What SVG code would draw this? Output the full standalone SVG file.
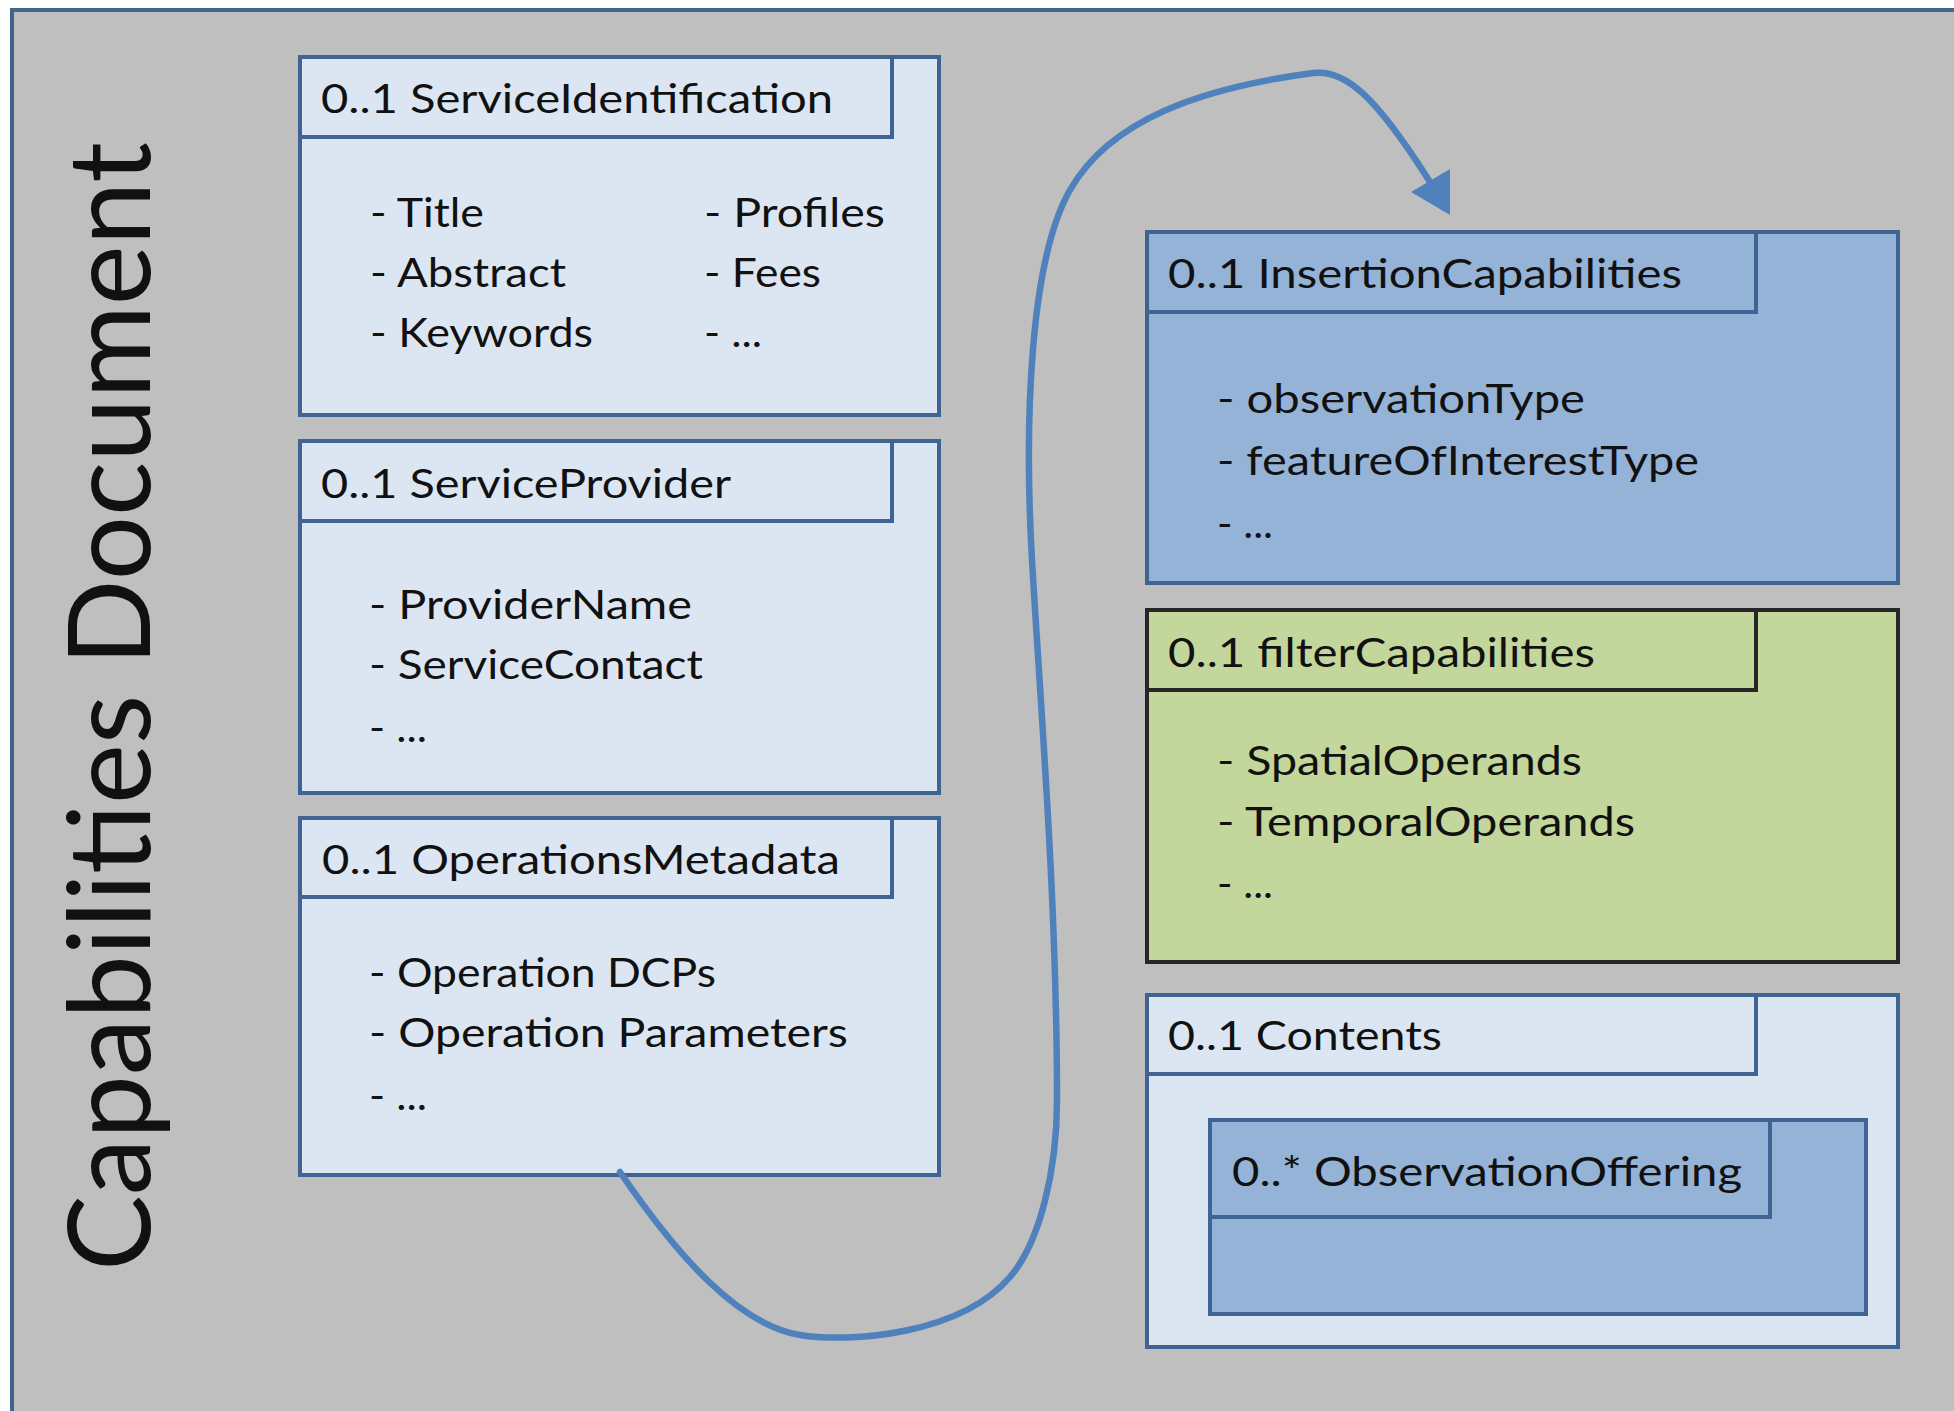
<svg xmlns="http://www.w3.org/2000/svg" width="1954" height="1411" viewBox="0 0 1954 1411">
  <style>
    .frame { fill: #bfbfbf; stroke: #41648f; stroke-width: 4; }
    .light { fill: #dce6f2; stroke: #3f6392; stroke-width: 4; }
    .mid { fill: #95b3d7; stroke: #3f6392; stroke-width: 4; }
    .green { fill: #c3d69b; stroke: #262626; stroke-width: 4; }
    text { font-family: Lato, "Open Sans", "Liberation Sans", sans-serif; font-size: 41px; fill: #111111; }
    .vtitle { font-size: 114px; }
    .link { fill: none; stroke: #4f81bd; stroke-width: 6.5; stroke-linecap: round; }
    .head { fill: #4f81bd; }
  </style>

  <rect x="0" y="0" width="1954" height="1411" fill="#ffffff"/>

  <!-- document frame -->
  <g id="document">
    <rect class="frame" x="12" y="10" width="2000" height="1450"/>
    <text class="vtitle" transform="translate(150,1271) rotate(-90)" textLength="1129" lengthAdjust="spacingAndGlyphs">Capabilities Document</text>
  </g>

  <!-- left column -->
  <g id="service-identification">
    <rect class="light" x="300" y="57" width="639" height="358"/>
    <rect class="light" x="300" y="57" width="592" height="80"/>
    <text x="321" y="113" textLength="512" lengthAdjust="spacingAndGlyphs">0..1 ServiceIdentification</text>
    <text x="370" y="227" textLength="114" lengthAdjust="spacingAndGlyphs">- Title</text>
    <text x="370" y="287" textLength="196" lengthAdjust="spacingAndGlyphs">- Abstract</text>
    <text x="370" y="347" textLength="223" lengthAdjust="spacingAndGlyphs">- Keywords</text>
    <text x="704" y="227" textLength="181" lengthAdjust="spacingAndGlyphs">- Profiles</text>
    <text x="704" y="287" textLength="117" lengthAdjust="spacingAndGlyphs">- Fees</text>
    <text x="704" y="347" textLength="58" lengthAdjust="spacingAndGlyphs">- ...</text>
  </g>

  <g id="service-provider">
    <rect class="light" x="300" y="441" width="639" height="352"/>
    <rect class="light" x="300" y="441" width="592" height="80"/>
    <text x="321" y="498" textLength="410" lengthAdjust="spacingAndGlyphs">0..1 ServiceProvider</text>
    <text x="369" y="619" textLength="323" lengthAdjust="spacingAndGlyphs">- ProviderName</text>
    <text x="369" y="679" textLength="334" lengthAdjust="spacingAndGlyphs">- ServiceContact</text>
    <text x="369" y="742" textLength="58" lengthAdjust="spacingAndGlyphs">- ...</text>
  </g>

  <g id="operations-metadata">
    <rect class="light" x="300" y="818" width="639" height="357"/>
    <rect class="light" x="300" y="818" width="592" height="79"/>
    <text x="322" y="874" textLength="518" lengthAdjust="spacingAndGlyphs">0..1 OperationsMetadata</text>
    <text x="369" y="987" textLength="347" lengthAdjust="spacingAndGlyphs">- Operation DCPs</text>
    <text x="369" y="1047" textLength="479" lengthAdjust="spacingAndGlyphs">- Operation Parameters</text>
    <text x="369" y="1110" textLength="58" lengthAdjust="spacingAndGlyphs">- ...</text>
  </g>

  <!-- right column -->
  <g id="insertion-capabilities">
    <rect class="mid" x="1147" y="232" width="751" height="351"/>
    <rect class="mid" x="1147" y="232" width="609" height="80"/>
    <text x="1168" y="288" textLength="514" lengthAdjust="spacingAndGlyphs">0..1 InsertionCapabilities</text>
    <text x="1217" y="413" textLength="368" lengthAdjust="spacingAndGlyphs">- observationType</text>
    <text x="1217" y="475" textLength="482" lengthAdjust="spacingAndGlyphs">- featureOfInterestType</text>
    <text x="1217" y="538" textLength="56" lengthAdjust="spacingAndGlyphs">- ...</text>
  </g>

  <g id="filter-capabilities">
    <rect class="green" x="1147" y="610" width="751" height="352"/>
    <rect class="green" x="1147" y="610" width="609" height="80"/>
    <text x="1168" y="667" textLength="427" lengthAdjust="spacingAndGlyphs">0..1 filterCapabilities</text>
    <text x="1217" y="775" textLength="365" lengthAdjust="spacingAndGlyphs">- SpatialOperands</text>
    <text x="1217" y="836" textLength="418" lengthAdjust="spacingAndGlyphs">- TemporalOperands</text>
    <text x="1217" y="898" textLength="56" lengthAdjust="spacingAndGlyphs">- ...</text>
  </g>

  <g id="contents">
    <rect class="light" x="1147" y="995" width="751" height="352"/>
    <rect class="light" x="1147" y="995" width="609" height="79"/>
    <text x="1168" y="1050" textLength="274" lengthAdjust="spacingAndGlyphs">0..1 Contents</text>
    <g id="observation-offering">
      <rect class="mid" x="1210" y="1120" width="656" height="194"/>
      <rect class="mid" x="1210" y="1120" width="560" height="97"/>
      <text x="1232" y="1186" textLength="510" lengthAdjust="spacingAndGlyphs">0..* ObservationOffering</text>
    </g>
  </g>

  <!-- connector from OperationsMetadata up to InsertionCapabilities -->
  <g id="connectors">
    <path class="link" d="M620,1172 C680,1260 740,1325 800,1335 C850,1343 960,1335 1010,1277 C1040,1242 1057,1170 1057,1100 C1057,900 1040,700 1032,560 C1024,420 1030,260 1070,190 C1110,120 1200,88 1313,73 C1345,69 1375,95 1430,182"/>
    <polygon class="head" points="1450,215 1411,192 1450,169"/>
  </g>
</svg>
